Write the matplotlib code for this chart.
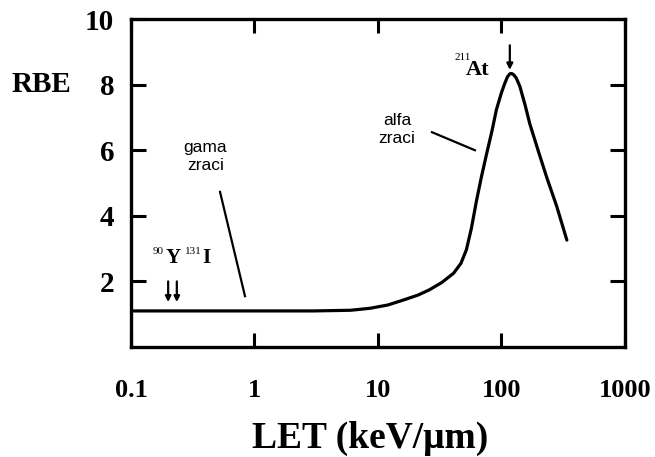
import matplotlib
matplotlib.use("Agg")
import matplotlib.pyplot as plt

# Data
let_vals = [0.1, 1, 3, 6, 8.6, 12, 16, 21, 26, 33, 41, 47, 52, 57, 63, 69, 76, 84, 91,
            100, 106, 112, 117, 121, 126, 132, 141, 155, 170, 200, 232, 280, 339]
rbe_vals = [1.1, 1.1, 1.1, 1.12, 1.18, 1.28, 1.43, 1.58, 1.74, 1.97, 2.25, 2.55, 2.96,
            3.6, 4.48, 5.2, 5.9, 6.6, 7.23, 7.75, 8.02, 8.24, 8.33, 8.34, 8.3, 8.2, 7.95,
            7.4, 6.8, 5.95, 5.19, 4.3, 3.26]
x_ticks = [0.1, 1, 10, 100, 1000]
x_tick_labels = ["0.1", "1", "10", "100", "1000"]
y_ticks = [2, 4, 6, 8, 10]
y_tick_labels = ["2", "4", "6", "8", "10"]

serif = "Liberation Serif"
sans = "Liberation Sans"

fig = plt.figure(figsize=(6.55, 4.57), dpi=100)
ax = fig.add_axes([0.200, 0.2407, 0.754, 0.7176])
ax.set_xscale("log")
ax.set_xlim(0.1, 1000)
ax.set_ylim(0, 10)
ax.plot(let_vals, rbe_vals, color="black", lw=2.3, solid_capstyle="round",
        solid_joinstyle="round")

for s in ax.spines.values():
    s.set_linewidth(2.4)

ax.set_xticks(x_ticks)
ax.set_xticklabels(x_tick_labels, fontfamily=serif, fontweight="bold", fontsize=19)
ax.set_yticks(y_ticks)
ax.set_yticklabels(y_tick_labels, fontfamily=serif, fontweight="bold", fontsize=21)
ax.minorticks_off()
ax.tick_params(axis="x", which="major", direction="in", length=10, width=2.2,
               top=True, pad=23)
ax.tick_params(axis="y", which="major", direction="in", length=11, width=2.2,
               right=True, pad=12)

ax.set_xlabel("LET (keV/μm)", fontfamily=serif, fontweight="bold", fontsize=27)
ax.xaxis.set_label_coords(0.484, -0.225)
fig.text(0.017, 1 - 85 / 457, "RBE", fontfamily=serif, fontweight="bold", fontsize=21,
         va="center", ha="left")

# annotations
ax.text(0.40, 6.3, "gama\nzraci", fontfamily=sans, fontsize=12.5, ha="center", va="top",
        linespacing=1.25)
ax.plot([0.526, 0.838], [4.73, 1.55], color="black", lw=1.6)

ax.text(14.3, 7.15, "alfa\nzraci", fontfamily=sans, fontsize=12.5, ha="center", va="top",
        linespacing=1.25)
ax.plot([27.4, 61], [6.55, 6.0], color="black", lw=1.6)

ax.text(64, 8.3, "At", fontfamily=serif, fontweight="bold", fontsize=16, ha="center",
        va="baseline")
ax.text(49, 8.75, "211", fontfamily=serif, fontsize=8, ha="center", va="baseline")
ax.annotate("", xy=(117, 8.45), xytext=(117, 9.2),
            arrowprops=dict(arrowstyle="-|>", color="black", lw=1.6,
                            mutation_scale=9, shrinkA=0, shrinkB=0))

ax.text(0.22, 2.56, "Y", fontfamily=serif, fontweight="bold", fontsize=15, ha="center",
        va="baseline")
ax.text(0.165, 2.85, "90", fontfamily=serif, fontsize=8, ha="center", va="baseline")
ax.text(0.405, 2.56, "I", fontfamily=serif, fontweight="bold", fontsize=15, ha="center",
        va="baseline")
ax.text(0.32, 2.85, "131", fontfamily=serif, fontsize=8, ha="center", va="baseline")
for xa in [0.2, 0.235]:
    ax.annotate("", xy=(xa, 1.37), xytext=(xa, 2.0),
                arrowprops=dict(arrowstyle="-|>", color="black", lw=1.6,
                                mutation_scale=8, shrinkA=0, shrinkB=0))

fig.savefig("out.png", dpi=100, facecolor="white")
